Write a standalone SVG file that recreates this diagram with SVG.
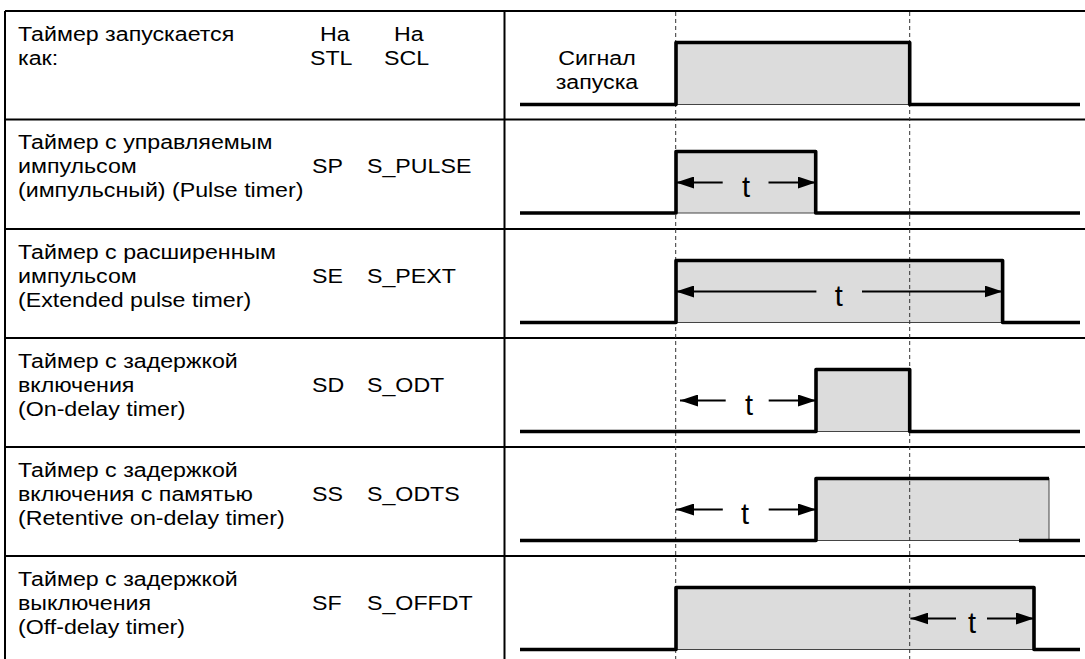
<svg xmlns="http://www.w3.org/2000/svg" width="1085" height="659" viewBox="0 0 1085 659">
<style>
.grid{stroke:#000;stroke-width:2;fill:none}
.guide{stroke:#333;stroke-width:1;stroke-dasharray:4 3;fill:none}
.box{fill:#dcdcdc;stroke:#444;stroke-width:1}
.sig{fill:none;stroke:#000;stroke-width:3.6;stroke-linejoin:round;stroke-linecap:butt}
.dim{stroke:#000;stroke-width:2;fill:none;marker-end:url(#ah)}
.lbl{font-family:"Liberation Sans",Arial,sans-serif;font-size:20px;fill:#000}
.t{font-family:"Liberation Sans",Arial,sans-serif;font-size:29px;fill:#000;text-anchor:middle}
</style>
<defs>
<marker id="ah" markerUnits="userSpaceOnUse" markerWidth="18" markerHeight="12" refX="18" refY="6" orient="auto">
<path d="M0,0 L18,6 L0,12 z" fill="#000"/>
</marker>
</defs>
<rect x="0" y="0" width="1085" height="659" fill="#fff"/>
<g id="table" class="grid">
<path d="M5,11 H1085 M5,11 V659 M504.5,11 V659 M5,119.5 H1085 M5,229 H1085 M5,338 H1085 M5,447 H1085 M5,556 H1085"/>
</g>
<g id="boxes">
<rect class="box" x="676" y="42.5" width="233.7" height="62"/>
<rect class="box" x="676" y="151.5" width="139.7" height="61.5"/>
<rect class="box" x="676" y="260.5" width="326.6" height="62"/>
<rect class="box" x="816" y="369.5" width="93.7" height="62"/>
<rect class="box" x="816" y="478.5" width="233" height="62"/>
<rect class="box" x="676" y="587.5" width="358" height="62"/>
</g>
<g id="connectors">
<line class="guide" x1="675.7" y1="12" x2="675.7" y2="659"/>
<line class="guide" x1="909.7" y1="12" x2="909.7" y2="659"/>
</g>
<g id="row0">
<path class="sig" d="M520,104.5 H676 V42.5 H909.7 V104.5 H1080"/>
<g transform="scale(1.16,1)" class="lbl">
<text x="15.52" y="41">Таймер запускается</text>
<text x="15.52" y="65">как:</text>
<text x="275.86" y="41">На</text>
<text x="267.24" y="65">STL</text>
<text x="339.66" y="41">На</text>
<text x="331.03" y="65">SCL</text>
<text x="514.66" y="65" text-anchor="middle">Сигнал</text>
<text x="514.66" y="89.5" text-anchor="middle">запуска</text>
</g>
</g>
<g id="row1">
<path class="sig" d="M520,213 H676 V151.5 H815.7 V213 H1080"/>
<line class="dim" x1="722.7" y1="182.5" x2="676" y2="182.5"/>
<line class="dim" x1="768.5" y1="182.5" x2="815.7" y2="182.5"/>
<text class="t" x="746" y="197">t</text>
<g transform="scale(1.16,1)" class="lbl">
<text x="15.52" y="149.5">Таймер с управляемым</text>
<text x="15.52" y="173.5">импульсом</text>
<text x="15.52" y="197.5">(импульсный) (Pulse timer)</text>
<text x="268.97" y="173.5">SP</text>
<text x="316.38" y="173.5">S_PULSE</text>
</g>
</g>
<g id="row2">
<path class="sig" d="M520,322.5 H676 V260.5 H1002.6 V322.5 H1080"/>
<line class="dim" x1="816.4" y1="291.5" x2="676" y2="291.5"/>
<line class="dim" x1="862" y1="291.5" x2="1002.6" y2="291.5"/>
<text class="t" x="838.8" y="306">t</text>
<g transform="scale(1.16,1)" class="lbl">
<text x="15.52" y="259">Таймер с расширенным</text>
<text x="15.52" y="283">импульсом</text>
<text x="15.52" y="307">(Extended pulse timer)</text>
<text x="268.97" y="283">SE</text>
<text x="316.38" y="283">S_PEXT</text>
</g>
</g>
<g id="row3">
<path class="sig" d="M520,431.5 H816 V369.5 H909.7 V431.5 H1080"/>
<line class="dim" x1="725.7" y1="400.5" x2="680" y2="400.5"/>
<line class="dim" x1="768.7" y1="400.5" x2="816" y2="400.5"/>
<text class="t" x="749" y="415">t</text>
<g transform="scale(1.16,1)" class="lbl">
<text x="15.52" y="368">Таймер с задержкой</text>
<text x="15.52" y="392">включения</text>
<text x="15.52" y="416">(On-delay timer)</text>
<text x="268.97" y="392">SD</text>
<text x="316.38" y="392">S_ODT</text>
</g>
</g>
<g id="row4">
<path class="sig" d="M520,540.5 H816 V478.5 H1049"/>
<path class="sig" d="M1019,540.5 H1080"/>
<line class="dim" x1="722.8" y1="509.5" x2="676" y2="509.5"/>
<line class="dim" x1="768.7" y1="509.5" x2="816" y2="509.5"/>
<text class="t" x="745" y="524">t</text>
<g transform="scale(1.16,1)" class="lbl">
<text x="15.52" y="477">Таймер с задержкой</text>
<text x="15.52" y="501">включения с памятью</text>
<text x="15.52" y="525">(Retentive on-delay timer)</text>
<text x="268.97" y="501">SS</text>
<text x="316.38" y="501">S_ODTS</text>
</g>
</g>
<g id="row5">
<path class="sig" d="M520,649.5 H676 V587.5 H1034 V649.5 H1080"/>
<line class="dim" x1="956" y1="618.5" x2="910.4" y2="618.5"/>
<line class="dim" x1="987" y1="618.5" x2="1034" y2="618.5"/>
<text class="t" x="972" y="633">t</text>
<g transform="scale(1.16,1)" class="lbl">
<text x="15.52" y="586">Таймер с задержкой</text>
<text x="15.52" y="610">выключения</text>
<text x="15.52" y="634">(Off-delay timer)</text>
<text x="268.97" y="610">SF</text>
<text x="316.38" y="610">S_OFFDT</text>
</g>
</g>
</svg>
